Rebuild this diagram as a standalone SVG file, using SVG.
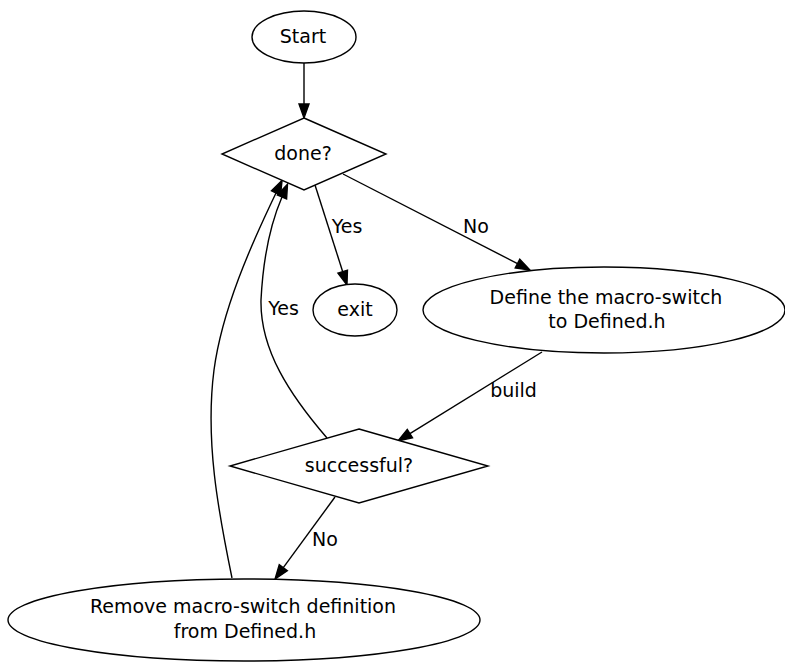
<svg xmlns="http://www.w3.org/2000/svg" width="785" height="662" viewBox="0 0 785 662">
<style>
.n{fill:#fff;stroke:#000;stroke-width:1.4}
.e{fill:none;stroke:#000;stroke-width:1.4;marker-end:url(#ah)}
text{font-family:"DejaVu Sans","Liberation Sans",sans-serif;font-size:19px;fill:#000;text-anchor:middle}
</style>
<defs>
<marker id="ah" markerUnits="userSpaceOnUse" markerWidth="16" markerHeight="12" refX="0" refY="5" orient="auto" viewBox="0 0 16 12" overflow="visible">
<path d="M0,0 L14,5 L0,10 z" fill="#000" stroke="#000" stroke-width="1.4"/>
</marker>
</defs>
<rect width="785" height="662" fill="#fff"/>
<g id="edges">
<path class="e" d="M304,63 L304,104"/>
<path class="e" d="M315,185 L342.7,271.7"/>
<path class="e" d="M343,174 L517.5,263.6"/>
<path class="e" d="M542,352 L409.9,433.6"/>
<path class="e" d="M335,497 L283.3,567.7"/>
<path class="e" d="M327,438 C290,395 260,350 261,300 C263,260 270,225 282,197"/>
<path class="e" d="M232,578 C218,510 205,440 214,370 C222,310 251,245 276,193"/>
<text x="347" y="233">Yes</text>
<text x="476" y="233">No</text>
<text x="513.5" y="397">build</text>
<text x="283.5" y="315">Yes</text>
<text x="325" y="546">No</text>
</g>
<g id="start">
<ellipse class="n" cx="304" cy="37" rx="52" ry="26"/>
<text x="303" y="43">Start</text>
</g>
<g id="done">
<polygon class="n" points="304,118 386,154 304,190 222,154"/>
<text x="303" y="160">done?</text>
</g>
<g id="exit">
<ellipse class="n" cx="355" cy="310" rx="42" ry="26"/>
<text x="355" y="316">exit</text>
</g>
<g id="define">
<ellipse class="n" cx="604" cy="310" rx="181" ry="43"/>
<text x="606" y="304">Define the macro-switch</text>
<text x="607" y="328">to Defined.h</text>
</g>
<g id="successful">
<polygon class="n" points="359,429 488,466 359,503 230,466"/>
<text x="359" y="472">successful?</text>
</g>
<g id="remove">
<ellipse class="n" cx="244" cy="620" rx="236" ry="41"/>
<text x="243" y="613">Remove macro-switch definition</text>
<text x="245" y="638">from Defined.h</text>
</g>
</svg>
